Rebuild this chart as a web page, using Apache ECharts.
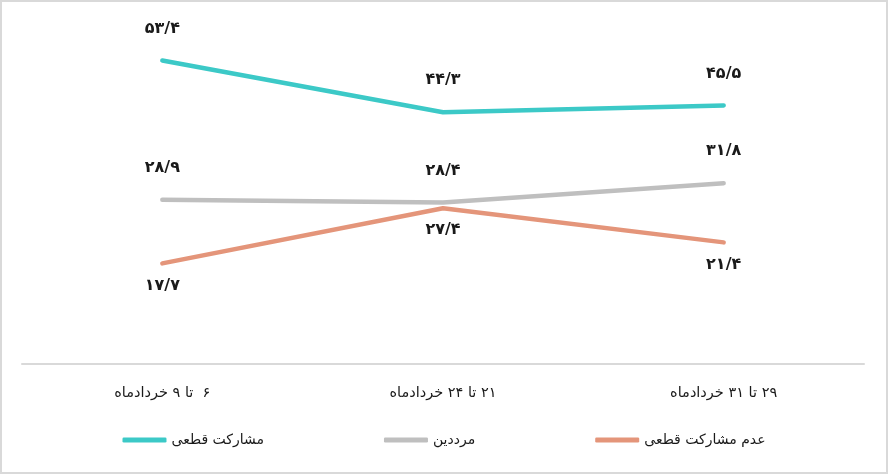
<!DOCTYPE html>
<html><head><meta charset="utf-8">
<script src="https://cdn.jsdelivr.net/npm/echarts@6/dist/echarts.min.js"></script>
<style>html,body{margin:0;padding:0;background:#fff}#c{width:888px;height:474px}</style>
</head><body><div id="c"></div>
<script>
const categories = ['۶  تا ۹ خردادماه', '۲۱ تا ۲۴ خردادماه', '۲۹ تا ۳۱ خردادماه'];
const seriesNames = ['مشارکت قطعی', 'مرددین', 'عدم مشارکت قطعی'];
const definite = [53.4, 44.3, 45.5];
const undecided = [28.9, 28.4, 31.8];
const notParticipating = [17.7, 27.4, 21.4];
const colors = ['#3cc9c7', '#bfbfbf', '#e4957a'];

const fa = v => String(v).replace('.', '/').replace(/\d/g, d => '۰۱۲۳۴۵۶۷۸۹'[d]);
const FONT = 'DejaVu Sans';
const RLM = '\u200F';

function mk(name, data, color, pos, dist) {
  return {
    name, type: 'line', data, showSymbol: true, symbol: 'circle', symbolSize: 0.01,
    lineStyle: { color, width: 4.5, cap: 'round', join: 'round' },
    itemStyle: { color, borderWidth: 0 },
    label: { show: true, position: pos, distance: dist, color: '#1a1a1a', fontFamily: FONT,
      fontWeight: 'bold', fontSize: 16, formatter: p => fa(p.value) },
    emphasis: { disabled: true }
  };
}

const chart = echarts.init(document.getElementById('c'));
chart.setOption({
  animation: false,
  grid: { left: 22, right: 24, top: 23, bottom: 110 },
  xAxis: { type: 'category', data: categories, boundaryGap: true,
    axisLine: { lineStyle: { color: '#d9d9d9', width: 2 } }, axisTick: { show: false },
    axisLabel: { color: '#1a1a1a', fontFamily: FONT, fontSize: 14.5, margin: 22,
      formatter: v => RLM + v } },
  yAxis: { type: 'value', min: 0, max: 60, show: false, splitLine: { show: false } },
  legend: { bottom: 22, left: 'center', itemWidth: 44, itemHeight: 5, itemGap: 120,
    textStyle: { color: '#1a1a1a', fontFamily: FONT, fontSize: 14 },
    icon: 'roundRect', data: seriesNames },
  graphic: [{ type: 'rect', shape: { x: 1, y: 1, width: 886, height: 472 },
    style: { fill: 'none', stroke: '#d9d9d9', lineWidth: 2 }, silent: true }],
  series: [
    mk(seriesNames[0], definite, colors[0], 'top', 24),
    mk(seriesNames[1], undecided, colors[1], 'top', 24),
    mk(seriesNames[2], notParticipating, colors[2], 'bottom', 14)
  ]
});
</script></body></html>
